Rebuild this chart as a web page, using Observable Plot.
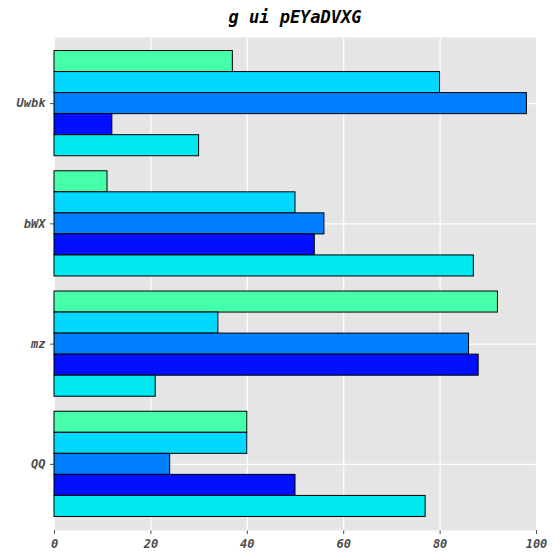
<!DOCTYPE html>
<html><head><meta charset="utf-8">
<script src="https://cdn.jsdelivr.net/npm/d3@7"></script>
<script src="https://cdn.jsdelivr.net/npm/@observablehq/plot@0.6"></script>
<style>
body{margin:0;background:#fff;}
#title{font:bold italic 17px "DejaVu Sans Mono",monospace;text-align:center;padding-left:30px;height:30px;line-height:34px;}
</style></head>
<body><div id="title">g ui pEYaDVXG</div><div id="chart"></div>
<script>
const categories = ["QQ", "mz", "bWX", "Uwbk"]
const series = ["s1", "s2", "s3", "s4", "s5"]
const colors = ["#46ffaa", "#00d8ff", "#0080ff", "#0010ff", "#00e8f0"]
const values = {
  Uwbk: [37, 80, 98, 12, 30],
  bWX: [11, 50, 56, 54, 87],
  mz: [92, 34, 86, 88, 21],
  QQ: [40, 40, 24, 50, 77]
}
const xTicks = [0, 20, 40, 60, 80, 100]

const groupH = 0.875, barH = groupH / series.length
const rows = []
categories.forEach((c, i) => series.forEach((s, j) => {
  const top = i + groupH / 2 - j * barH
  rows.push({cat: c, series: s, value: values[c][j], y1: top - barH, y2: top})
}))

const chart = Plot.plot({
  width: 560, height: 530,
  marginLeft: 54, marginRight: 24, marginTop: 7, marginBottom: 30,
  style: {fontFamily: "'DejaVu Sans Mono', monospace", fontSize: "12px", fontStyle: "italic", fontWeight: "bold", color: "#4d4d4d"},
  x: {domain: [0, 100], ticks: xTicks, label: null, tickSize: 4},
  y: {domain: [-0.55, 3.55], ticks: categories.map((c, i) => i), tickFormat: i => categories[i], label: null, tickSize: 4},
  color: {domain: series, range: colors},
  marks: [
    Plot.frame({fill: "#e5e5e5", stroke: null}),
    Plot.gridX(xTicks, {stroke: "white", strokeOpacity: 1, strokeWidth: 1.2}),
    Plot.gridY(categories.map((c, i) => i), {stroke: "white", strokeOpacity: 1, strokeWidth: 1.2}),
    Plot.rectX(rows, {x1: 0, x2: "value", y1: "y1", y2: "y2", fill: "series", stroke: "black", strokeWidth: 1})
  ]
})
document.getElementById("chart").append(chart)
</script></body></html>
